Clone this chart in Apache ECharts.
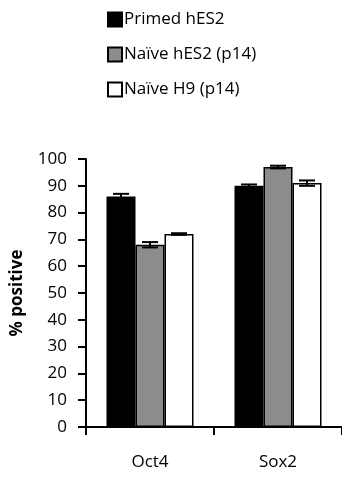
<!DOCTYPE html>
<html>
<head>
<meta charset="utf-8">
<script src="https://cdn.jsdelivr.net/npm/echarts@6/dist/echarts.min.js"></script>
<style>
  html, body { margin: 0; padding: 0; background: #fff; }
  #main { width: 342px; height: 477px; }
</style>
</head>
<body>
<div id="main"></div>
<script>
const markers = ['Oct4', 'Sox2'];
const seriesNames = ['Primed hES2', 'Naïve hES2 (p14)', 'Naïve H9 (p14)'];
const primed = [86, 90];
const naiveHES2 = [68, 97];
const naiveH9 = [72, 91];
const primedErr = [1, 0.5];
const naiveHES2Err = [1, 0.5];
const naiveH9Err = [0.3, 1];
const yTicks = [0, 10, 20, 30, 40, 50, 60, 70, 80, 90, 100];

const chart = echarts.init(document.getElementById('main'));
const font = 'Open Sans, Liberation Sans, sans-serif';
const fills = ['#000000', '#8c8c8c', '#ffffff'];
const values = [primed, naiveHES2, naiveH9];
const errs = [primedErr, naiveHES2Err, naiveH9Err];

const barSeries = seriesNames.map((name, i) => ({
  name: name,
  type: 'bar',
  data: values[i],
  barWidth: 29,
  barGap: '0%',
  itemStyle: { color: fills[i], borderColor: '#000', borderWidth: 1.5 },
  z: 2
}));

// error bars drawn over each bar of the group
const errSeries = seriesNames.map((name, i) => ({
  type: 'custom',
  name: name + ' err',
  z: 5,
  data: values[i].map((v, k) => [k, v, errs[i][k]]),
  renderItem: function (params, api) {
    const k = api.value(0);
    const v = api.value(1);
    const e = api.value(2);
    const center = api.coord([k, v]);
    const x = center[0] + (i - 1) * 29;
    const hi = api.coord([k, v + e])[1];
    const lo = api.coord([k, v - e])[1];
    const half = 8;
    const st = { stroke: '#000', lineWidth: 2 };
    return {
      type: 'group',
      children: [
        { type: 'line', shape: { x1: x, y1: hi, x2: x, y2: lo }, style: st },
        { type: 'line', shape: { x1: x - half, y1: hi, x2: x + half, y2: hi }, style: st },
        { type: 'line', shape: { x1: x - half, y1: lo, x2: x + half, y2: lo }, style: st }
      ]
    };
  }
}));

const option = {
  animation: false,
  backgroundColor: '#fff',
  textStyle: { fontFamily: font },
  legend: {
    orient: 'vertical',
    left: 102,
    top: 6,
    itemGap: 18,
    itemWidth: 14,
    itemHeight: 14,
    selectedMode: false,
    data: seriesNames.map((n, i) => ({
      name: n,
      icon: 'rect',
      itemStyle: { color: fills[i], borderColor: '#000', borderWidth: 2 }
    })),
    textStyle: { fontFamily: font, fontSize: 17, color: '#000', padding: [0, 0, 0, -3] }
  },
  grid: { left: 86, right: 0, top: 159, bottom: 50 },
  xAxis: {
    type: 'category',
    data: markers,
    axisLine: { lineStyle: { color: '#000', width: 2 } },
    axisTick: { show: true, length: 8, lineStyle: { color: '#000', width: 2 } },
    axisLabel: { color: '#000', fontSize: 17, margin: 27, fontFamily: font }
  },
  yAxis: {
    type: 'value',
    min: 0,
    max: 100,
    interval: 10,
    name: '% positive',
    nameLocation: 'middle',
    nameGap: 60,
    nameTextStyle: { color: '#000', fontSize: 17, fontWeight: 'bold', fontFamily: font },
    axisLine: { show: true, lineStyle: { color: '#000', width: 2 } },
    axisTick: { show: true, length: 8, lineStyle: { color: '#000', width: 2 } },
    axisLabel: {
      color: '#000', fontSize: 17, margin: 19, fontFamily: font,
      formatter: v => (yTicks.indexOf(v) >= 0 ? String(v) : '')
    },
    splitLine: { show: false }
  },
  series: barSeries.concat(errSeries)
};
chart.setOption(option);
</script>
</body>
</html>
